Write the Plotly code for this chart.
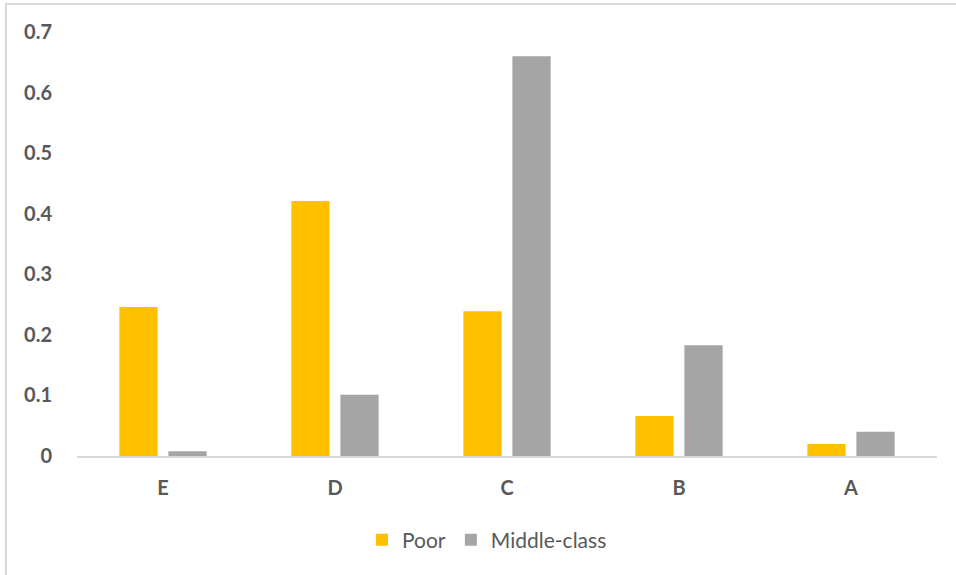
import plotly.graph_objects as go

categories = ["E", "D", "C", "B", "A"]
poor = [0.246, 0.421, 0.239, 0.066, 0.020]
middle_class = [0.008, 0.101, 0.660, 0.183, 0.040]
y_ticks = [0, 0.1, 0.2, 0.3, 0.4, 0.5, 0.6, 0.7]
y_tick_labels = ["0", "0.1", "0.2", "0.3", "0.4", "0.5", "0.6", "0.7"]

W, H = 956, 575
L, R, T, B = 77, 19, 32, 119
pw, ph = W - L - R, H - T - B

fig = go.Figure()
fig.add_trace(go.Bar(x=categories, y=poor, name="Poor", marker=dict(color="#FFC000", line=dict(width=0))))
fig.add_trace(go.Bar(x=categories, y=middle_class, name="Middle-class", marker=dict(color="#A5A5A5", line=dict(width=0))))

def px_x(p):
    return (p - L) / pw

def px_y(p):
    return (H - B - p) / ph

fig.update_layout(
    width=W, height=H,
    margin=dict(l=L, r=R, t=T, b=B),
    paper_bgcolor="white", plot_bgcolor="white",
    barmode="group", bargap=0.43, bargroupgap=0.22,
    font=dict(family="Lato, 'Open Sans', sans-serif", color="#595959"),
    showlegend=True,
    legend=dict(orientation="h", x=0.5 - 20 / pw, xanchor="center", y=px_y(540), yanchor="middle",
                font=dict(size=21, color="#595959"), itemwidth=30, traceorder="normal"),
    xaxis=dict(showgrid=False, showline=True, linecolor="#d9d9d9", linewidth=2, ticks="",
               tickfont=dict(size=20, weight="bold"), ticklabelstandoff=13,
               fixedrange=True),
    yaxis=dict(range=[0, 0.7], tickvals=y_ticks, ticktext=y_tick_labels, showgrid=False,
               showline=False, zeroline=False, ticks="",
               tickfont=dict(size=20, weight="bold"), ticklabelstandoff=24, fixedrange=True),
    shapes=[
        dict(type="line", xref="paper", yref="paper", x0=px_x(5), x1=px_x(960), y0=px_y(4), y1=px_y(4),
             line=dict(color="#d9d9d9", width=2)),
        dict(type="line", xref="paper", yref="paper", x0=px_x(6), x1=px_x(6), y0=px_y(4), y1=px_y(580),
             line=dict(color="#d9d9d9", width=2)),
    ],
)

fig.write_html("out.html")
